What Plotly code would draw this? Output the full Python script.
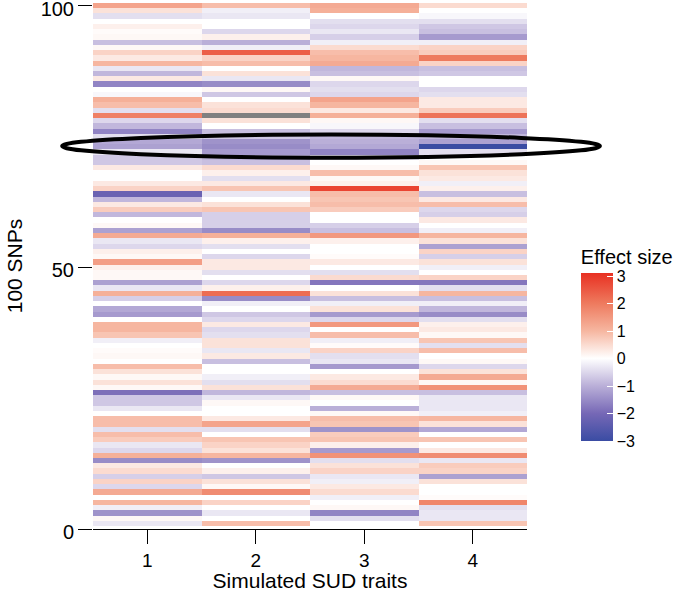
import numpy as np
import plotly.graph_objects as go

# simulated SUD traits (columns) and 100 SNPs (rows, listed from SNP 1 up to SNP 100)
traits = [1, 2, 3, 4]
snps = list(range(1, 101))

trait1 = [-0.3, 0.1, -1.4, -0.2, 1.0, 0.0, 1.2, -0.5, 0.6, -0.6,
          0.5, 0.3, -1.5, 1.1, -0.5, -0.3, 0.7, 0.9, -0.4, 0.9,
          0.9, 0.0, -0.3, -0.7, -0.7, -1.9, 0.1, 0.4, 0.1, 0.4,
          0.9, 0.0, 0.1, 0.05, 0.0, -0.2, 0.8, 1.0, 1.0, 0.0,
          -1.3, -1.1, 0.0, -0.6, 1.1, -0.3, -1.2, 0.1, 0.1, 0.2,
          1.4, 0.1, 0.2, -0.5, -0.3, 1.2, -1.2, 0.1, 0.0, -0.9,
          0.7, 0.3, -0.9, -2.2, 0.6, 0.3, 0.0, 0.0, 0.3, -0.7,
          -0.7, -0.3, -1.2, -1.1, -0.4, -1.6, -0.9, -0.5, 1.9, -0.4,
          0.9, 1.1, -0.1, 0.0, -1.6, 0.3, -0.9, -0.3, 1.0, 0.3,
          0.6, 0.1, -0.8, 0.1, 0.05, 0.2, 0.0, -0.4, 0.4, 1.3]

trait2 = [0.9, 0.0, -0.3, 0.0, 0.6, 0.0, 1.7, 0.1, 0.4, -0.7,
          0.2, 0.0, -1.4, 1.0, 0.4, 0.6, 0.8, 0.0, -0.4, 1.3,
          0.3, 0.0, 0.0, 0.1, -0.3, -0.9, 0.4, -0.4, -0.2, 0.0,
          0.0, -0.8, 0.3, -0.3, 0.4, 0.4, -0.4, -0.5, 0.3, -0.5,
          -0.7, 0.0, -0.2, -1.5, 2.2, 0.2, -0.5, 0.0, -0.4, 0.3,
          0.3, -0.5, 0.0, -0.4, 0.2, 1.1, -1.5, -0.6, -0.6, -0.6,
          0.8, 0.4, 0.0, -0.3, 0.8, 0.3, -0.4, 0.2, 0.5, -0.8,
          -0.9, -1.3, -1.5, -1.4, -0.7, -0.8, 0.0, 0.4, np.nan, 0.5,
          0.4, 0.0, -0.7, 0.1, -1.5, -0.3, 0.4, 0.0, 0.9, 0.6,
          2.4, -0.2, -1.0, 0.2, -0.5, 0.0, 0.0, -0.3, -0.2, 0.9]

trait3 = [0.0, -0.4, -1.6, 0.1, 0.0, -0.2, 0.5, 0.3, -0.2, -0.3,
          0.6, 0.4, -0.4, 1.6, -1.3, 0.2, 0.8, 0.7, -1.4, 0.8,
          0.9, 0.1, -1.0, 0.0, 0.1, -0.8, 1.2, 0.5, 0.3, 0.0,
          -1.3, -0.3, -0.4, 0.6, 0.05, -0.2, 0.9, 0.0, 1.5, -0.5,
          -1.3, 0.4, -0.2, -0.8, 0.4, 0.0, -1.8, 0.5, -0.4, 0.0,
          0.3, 0.05, 0.0, 0.0, 0.2, 1.5, -0.8, -0.6, 0.0, 0.0,
          0.7, 0.9, 0.8, 0.9, 2.8, 0.2, 0.1, 0.9, 0.1, 0.0,
          -0.4, -1.6, -1.1, -1.0, -0.9, -0.5, -0.1, 0.1, 1.1, 0.3,
          1.0, 1.3, -0.5, -0.4, -0.5, 0.1, -0.8, -0.9, 1.2, 1.0,
          0.9, 0.5, -0.2, -0.6, -0.3, -0.5, -0.4, 0.0, 1.1, 1.2]

trait4 = [0.8, -0.3, -0.3, -0.4, 1.8, 0.05, 0.0, 0.0, 0.4, -1.2,
          0.6, 0.7, -0.3, 1.7, 0.3, 0.0, 0.8, 0.0, -1.1, 0.4,
          1.0, -0.2, -0.3, -0.3, -0.3, -0.8, 1.6, 0.1, 1.2, 0.4,
          -0.5, 0.1, 0.0, 0.9, -0.4, 0.8, 0.1, 0.3, 0.2, -0.4,
          -1.5, -0.9, -0.2, -0.8, 1.0, -0.4, -1.8, 0.6, 0.0, -0.2,
          0.4, -0.6, 0.6, -1.2, 0.4, 1.0, -0.2, 0.0, 0.3, -0.6,
          -0.5, 0.9, 0.3, -0.8, 0.2, -0.2, 0.3, 0.4, 0.8, 0.1,
          0.0, -0.4, -3.0, -1.2, -0.9, -1.3, -0.8, -0.4, 2.1, 0.7,
          0.3, 0.3, -0.4, -0.5, 0.0, 0.0, -0.7, -0.8, 0.6, 2.0,
          0.7, 0.6, -0.2, -1.3, -0.8, -0.7, -0.4, -0.1, 0.0, 0.5]

cbar_ticks = [-3, -2, -1, 0, 1, 2, 3]
cbar_text = ["\u22123", "\u22122", "\u22121", "0", "1", "2", "3"]

# diverging blue - white - red fill, white at zero
zmin, zmax = -3.0, 3.1
scale_vals = [-3.0, -2.0, -1.0, 0.0, 1.0, 2.0, 3.1]
scale_cols = ["rgb(58,76,163)", "rgb(118,104,182)", "rgb(186,175,216)",
              "rgb(255,255,255)", "rgb(246,182,160)", "rgb(238,122,94)",
              "rgb(232,48,34)"]
colorscale = [[(v - zmin) / (zmax - zmin), c] for v, c in zip(scale_vals, scale_cols)]

z = np.array([trait1, trait2, trait3, trait4]).T
z_na = np.where(np.isnan(z), 1.0, np.nan)

font = "Liberation Sans, Arial, sans-serif"

fig = go.Figure()
# missing values drawn in grey underneath
fig.add_trace(go.Heatmap(
    x=traits, y=snps, z=z_na,
    colorscale=[[0, "rgb(128,128,128)"], [1, "rgb(128,128,128)"]],
    showscale=False, hoverinfo="skip",
))
fig.add_trace(go.Heatmap(
    x=traits, y=snps, z=z,
    zmin=zmin, zmax=zmax, colorscale=colorscale,
    colorbar=dict(
        title=dict(text="Effect size", side="top", font=dict(size=20, color="black")),
        thickness=32, thicknessmode="pixels",
        len=195, lenmode="pixels",
        x=1.124, xanchor="left", xpad=0,
        y=0.352, yanchor="middle", ypad=0,
        outlinewidth=0,
        tickvals=cbar_ticks, ticktext=cbar_text,
        ticks="inside", tickcolor="white", ticklen=6, tickwidth=1,
        tickfont=dict(size=16, color="black"),
    ),
))

# highlighted block of SNPs
fig.add_shape(type="circle", xref="x domain", yref="y domain",
              x0=-0.071, x1=1.168, y0=0.706, y1=0.750,
              line=dict(color="black", width=4))

fig.update_xaxes(
    range=[0.5, 4.5], tickvals=traits,
    showline=True, linecolor="black", linewidth=1.2,
    ticks="outside", ticklen=14, tickwidth=1.2, tickcolor="black",
    showgrid=False, zeroline=False, automargin=False,
    tickfont=dict(size=19, color="black"),
    title=dict(text="Simulated SUD traits", font=dict(size=21, color="black"), standoff=4),
)
fig.update_yaxes(
    range=[0, 100.5], tickvals=[0, 50, 100],
    showline=False, ticklabeloverflow="allow", ticklabelshift=3,
    ticks="outside", ticklen=14, tickwidth=1.2, tickcolor="black",
    showgrid=False, zeroline=False, automargin=False,
    tickfont=dict(size=20, color="black"),
    title=dict(text="100 SNPs", font=dict(size=21, color="black"), standoff=12),
)
fig.update_layout(
    width=681, height=592,
    margin=dict(l=93, r=154, t=3, b=63),
    paper_bgcolor="white", plot_bgcolor="white",
    font=dict(family=font, color="black"),
)

fig.write_html("out.html", config={"displayModeBar": False},
               post_script="document.body.style.margin='0';")
